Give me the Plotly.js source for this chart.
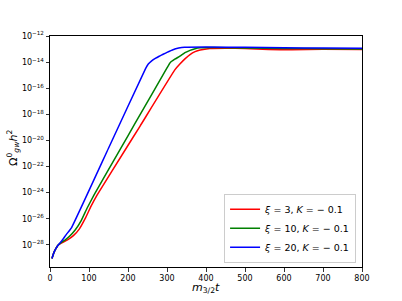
<!DOCTYPE html>
<html>
<head>
<meta charset="utf-8">
<script src="https://cdn.plot.ly/plotly-3.0.1.min.js"></script>
<style>html,body{margin:0;padding:0;background:#fff;}#plot{width:402px;height:301px;}</style>
</head>
<body>
<div id="plot"></div>
<script>
// m_{3/2} t samples and log10(Omega_gw^0 h^2)
const tRed   = [5, 10, 15, 20, 30, 45, 60, 75, 90, 105, 121, 195, 231, 320, 333, 346, 359, 372, 385, 410, 450, 500, 560, 620, 700, 800];
const logRed = [-29.05, -28.6, -28.3, -28.05, -27.85, -27.62, -27.3, -26.8, -26.0, -25.05, -24.17, -20.62, -18.9, -14.6, -14.15, -13.75, -13.42, -13.2, -13.07, -12.95, -12.93, -12.96, -13.04, -13.05, -13.02, -13.03];

const tGreen   = [5, 10, 15, 20, 30, 40, 50, 65, 80, 95, 113, 181, 218, 300, 308, 320, 333, 346, 359, 372, 385, 420, 500, 600, 700, 800];
const logGreen = [-29.05, -28.6, -28.3, -28.05, -27.8, -27.6, -27.35, -26.85, -26.15, -25.2, -24.17, -20.63, -18.7, -14.45, -14.05, -13.78, -13.55, -13.28, -13.1, -12.97, -12.9, -12.88, -12.92, -12.95, -12.97, -12.99];

const tBlue   = [5, 10, 15, 20, 30, 42, 55, 150, 245, 252, 260, 270, 280, 290, 300, 310, 320, 330, 345, 400, 500, 600, 700, 800];
const logBlue = [-29.05, -28.6, -28.3, -28.05, -27.7, -27.2, -26.7, -20.6, -14.5, -14.15, -13.92, -13.72, -13.55, -13.4, -13.25, -13.12, -13.0, -12.92, -12.86, -12.84, -12.87, -12.9, -12.92, -12.94];

const seriesNames = ['<i>ξ</i> = 3, <i>K</i> = − 0.1', '<i>ξ</i> = 10, <i>K</i> = − 0.1', '<i>ξ</i> = 20, <i>K</i> = − 0.1'];
const seriesColors = ['#ff0000', '#008000', '#0000ff'];

const xTickVals = [0, 100, 200, 300, 400, 500, 600, 700, 800];
const yTickExp = [-28, -26, -24, -22, -20, -18, -16, -14, -12];

const xTitle = '<i>m</i><sub>3/2</sub><i>t</i>';
const yTitle = 'Ω<sup>0</sup><sub><i>gw</i></sub><i>h</i><sup>2</sup>';

const toVal = arr => arr.map(e => Math.pow(10, e));

const data = [[tRed, logRed], [tGreen, logGreen], [tBlue, logBlue]].map((s, i) => ({
  x: s[0], y: toVal(s[1]), type: 'scatter', mode: 'lines', name: seriesNames[i],
  line: {color: seriesColors[i], width: 1.5, shape: 'spline', smoothing: 0.3}
}));

const titleFont = {family: 'DejaVu Sans, sans-serif', size: 11, color: '#000'};
const layout = {
  width: 402, height: 301,
  margin: {l: 50, r: 40, t: 36, b: 34, pad: 0},
  paper_bgcolor: '#fff', plot_bgcolor: '#fff',
  font: {family: 'DejaVu Sans, sans-serif', size: 8, color: '#000'},
  showlegend: true,
  legend: {x: 0.981, y: 0.018, xanchor: 'right', yanchor: 'bottom',
    bgcolor: 'rgba(255,255,255,0.8)', bordercolor: '#cccccc', borderwidth: 1,
    font: {family: 'DejaVu Sans, sans-serif', size: 9.5, color: '#000'},
    tracegroupgap: 0, itemwidth: 30},
  xaxis: {
    range: [0, 800], tickvals: xTickVals, ticktext: xTickVals.map(String),
    showgrid: false, zeroline: false, showline: true, linecolor: '#000', linewidth: 1, mirror: true,
    ticks: 'outside', ticklen: 3.5, tickwidth: 0.8, tickcolor: '#000'
  },
  yaxis: {
    type: 'log', range: [-29.7, -12],
    tickvals: yTickExp.map(e => Math.pow(10, e)),
    ticktext: yTickExp.map(e => '10<sup>−' + Math.abs(e) + '</sup>'),
    showgrid: false, zeroline: false, showline: true, linecolor: '#000', linewidth: 1, mirror: true,
    ticks: 'outside', ticklen: 3.5, tickwidth: 0.8, tickcolor: '#000'
  },
  annotations: [
    {text: xTitle, xref: 'paper', yref: 'paper', x: 0.5, y: -0.058, xanchor: 'center', yanchor: 'top',
     showarrow: false, font: titleFont, borderpad: 0},
    {text: yTitle, xref: 'paper', yref: 'paper', x: -0.118, y: 0.516, xanchor: 'center', yanchor: 'middle',
     textangle: -90, showarrow: false, font: titleFont, borderpad: 0}
  ]
};

Plotly.newPlot('plot', data, layout, {displayModeBar: false, staticPlot: true});
</script>
</body>
</html>
